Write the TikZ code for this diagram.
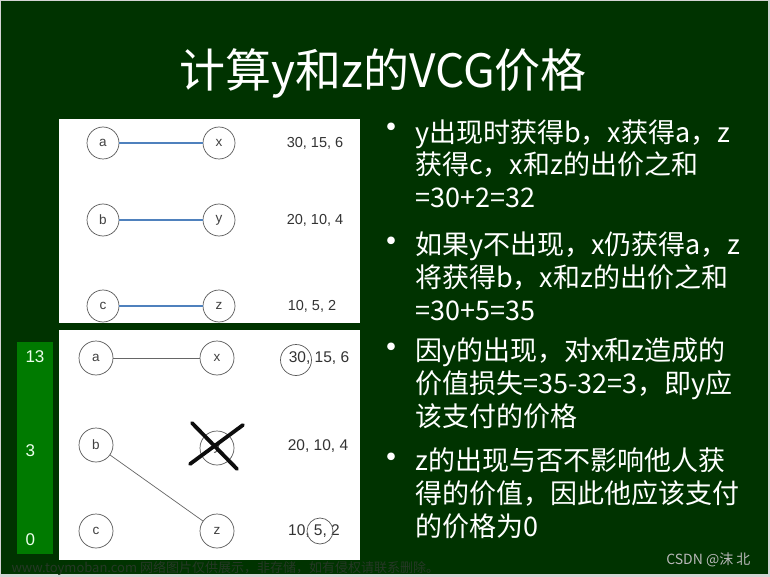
\documentclass[tikz,border=0pt]{standalone}
\usepackage{fontspec}
\setmainfont{Noto Sans CJK SC}
\newfontfamily\labelfont{Liberation Sans}
\definecolor{slidegreen}{RGB}{0,51,0}
\definecolor{bargreen}{RGB}{0,122,0}
\definecolor{matchblue}{RGB}{79,129,189}
\definecolor{framegray}{RGB}{212,212,212}
\definecolor{markgray}{RGB}{38,56,38}

\begin{document}
\begin{tikzpicture}[x=1pt,y=-1pt]

    \tikzset{
      vertex/.style={
        circle,
        draw=black!65,
        line width=0.7pt,
        minimum size=32pt,
        inner sep=0pt,
        text=black!75,
        font=\labelfont\fontsize{13.5}{13.5}\selectfont,
      },
      values/.style={text=black!80, font=\labelfont\fontsize{14.5}{14.5}\selectfont},
      matched/.style={draw=matchblue, line width=2pt},
      plain/.style={draw=black!60, line width=0.7pt},
      ring/.style={circle, draw=black!65, line width=0.7pt, inner sep=0pt},
      crossout/.style={draw=black!95, line width=3.8pt, line cap=round},
      bulletdot/.style={text=white, anchor=base, font=\fontsize{36}{36}\selectfont},
      bullettext/.style={text=white, anchor=base west, align=left, inner sep=0pt, font=\fontsize{27}{33}\selectfont},
      barnum/.style={text=green!8, anchor=west, font=\labelfont\fontsize{17}{17}\selectfont},
    }
    \useasboundingbox (0,0) rectangle (770,577);
    \fill[framegray] (0,0) rectangle (770,577);
    \fill[slidegreen] (1,1) rectangle (768,574);
    \fill[white] (59,119) rectangle (360,323);
    \fill[white] (59,330) rectangle (360,560);
    \fill[bargreen] (17,342) rectangle (53,554);

    % title
    \node[text=white, anchor=base, font=\fontsize{46}{46}\selectfont] (title) at (383,88) {计算y和z的VCG价格};

    % matching with y
    \node[vertex] (a1) at (103,143) {a};
    \node[vertex] (x1) at (219,143) {x};
    \node[vertex] (b1) at (103,220) {b};
    \node[vertex] (y1) at (219,220) {y};
    \node[vertex] (c1) at (103,306) {c};
    \node[vertex] (z1) at (219,306) {z};
    \draw[matched] (a1) -- (x1);
    \draw[matched] (b1) -- (y1);
    \draw[matched] (c1) -- (z1);
    \node[values] (vx1) at (315,143) {30, 15, 6};
    \node[values] (vy1) at (315,220) {20, 10, 4};
    \node[values] (vz1) at (312,306) {10, 5, 2};

    % matching without y
    \node[vertex, minimum size=34pt] (a2) at (96,358) {a};
    \node[vertex, minimum size=34pt] (x2) at (217,358) {x};
    \node[vertex, minimum size=34pt] (b2) at (96,445) {b};
    \node[vertex, minimum size=34pt] (y2) at (217,448) {y};
    \node[vertex, minimum size=34pt] (c2) at (96,531) {c};
    \node[vertex, minimum size=34pt] (z2) at (217,531) {z};
    \draw[plain] (a2) -- (x2);
    \draw[plain] (b2) -- (z2);
    \node[values, font=\labelfont\fontsize{15.5}{15.5}\selectfont] (vx2) at (319,358) {30, 15, 6};
    \node[values, font=\labelfont\fontsize{15.5}{15.5}\selectfont] (vy2) at (318,446) {20, 10, 4};
    \node[values, font=\labelfont\fontsize{15.5}{15.5}\selectfont] (vz2) at (314,531) {10, 5, 2};
    \node[ring, minimum size=31pt] (ring30) at (296,360) {};
    \node[ring, minimum size=26pt] (ring5) at (320,531) {};
    \draw[crossout] (192,423) -- (237,469);
    \draw[crossout] (190,464) -- (243,425);

    % payments
    \node[barnum] (pay13) at (22,357) {13};
    \node[barnum] (pay3) at (22,451) {3};
    \node[barnum] (pay0) at (22,540) {0};

    % bullets (base anchor sits on the last line)
    \node[bulletdot] (dot1) at (391,141) {•};
    \node[bullettext] (item1) at (415,208) {y出现时获得b，x获得a，z\\获得c，x和z的出价之和\\=30+2=32};
    \node[bulletdot] (dot2) at (391,254) {•};
    \node[bullettext] (item2) at (415,320) {如果y不出现，x仍获得a，z\\将获得b，x和z的出价之和\\=30+5=35};
    \node[bulletdot] (dot3) at (391,360) {•};
    \node[bullettext] (item3) at (415,426) {因y的出现，对x和z造成的\\价值损失=35-32=3，即y应\\该支付的价格};
    \node[bulletdot] (dot4) at (391,470) {•};
    \node[bullettext] (item4) at (415,536) {z的出现与否不影响他人获\\得的价值，因此他应该支付\\的价格为0};

    % marks
    \node[anchor=west, text=markgray, font=\fontsize{13}{13}\selectfont] (mark) at (8,568) {www.toymoban.com 网络图片仅供展示，非存储，如有侵权请联系删除。};
    \node[anchor=east, text=black!28, font=\fontsize{14}{14}\selectfont] (csdn) at (754,560) {CSDN @沫 北};

\end{tikzpicture}
\end{document}
